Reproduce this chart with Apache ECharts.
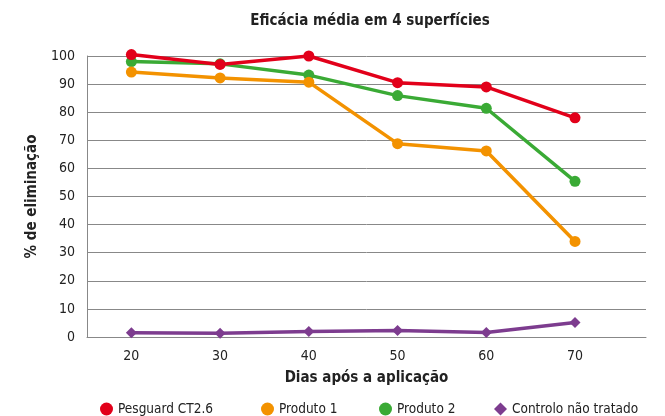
<!DOCTYPE html>
<html>
<head>
<meta charset="utf-8">
<script src="https://cdn.jsdelivr.net/npm/echarts@6/dist/echarts.min.js"></script>
<style>
  html, body { margin: 0; padding: 0; background: #fff; }
  #chart { width: 665px; height: 416px; }
</style>
</head>
<body>
<div id="chart"></div>
<script>
// dias após a aplicação
var dias = [20, 30, 40, 50, 60, 70];
var pesguard = [100.5, 97, 100, 90.5, 89, 78];
var produto1 = [94.3, 92.2, 90.7, 68.8, 66.2, 34];
var produto2 = [98, 97.2, 93.2, 85.9, 81.4, 55.4];
var controlo = [1.5, 1.3, 2, 2.3, 1.6, 5.2];
var yTicks = [0, 10, 20, 30, 40, 50, 60, 70, 80, 90, 100];

var nomes = ['Pesguard CT2.6', 'Produto 1', 'Produto 2', 'Controlo não tratado'];
var cores = ['#e2001a', '#f39200', '#3aaa35', '#7d3c8f'];
var fonte = 'Liberation Sans Narrow, DejaVu Sans Condensed, sans-serif';

function pares(vals) {
  return dias.map(function (d, i) { return [d, vals[i]]; });
}

var chart = echarts.init(document.getElementById('chart'));

var series = [pesguard, produto1, produto2, controlo].map(function (vals, i) {
  return {
    name: nomes[i],
    type: 'line',
    data: pares(vals),
    clip: false,
    symbol: i === 3 ? 'diamond' : 'circle',
    symbolSize: 11,
    lineStyle: { width: 3.5, color: cores[i] },
    itemStyle: { color: cores[i] },
    z: 10 - i
  };
});

// uma legenda por série para acertar as posições
var legendLeft = [95, 256, 374, 489];
var legends = nomes.map(function (n, i) {
  return {
    data: [{ name: n, icon: i === 3 ? 'diamond' : 'circle' }],
    left: legendLeft[i],
    top: 397,
    itemWidth: 13,
    itemHeight: 13,
    itemGap: 6,
    textStyle: { fontFamily: fonte, fontSize: 13.5, color: '#222' }
  };
});

var option = {
  backgroundColor: '#fff',
  animation: false,
  title: {
    text: 'Eficácia média em 4 superfícies',
    left: 365,
    textAlign: 'center',
    top: 9,
    textStyle: { fontFamily: fonte, fontSize: 15, fontWeight: 'bold', color: '#222' }
  },
  legend: legends,
  grid: { left: 87, right: 19, top: 56, bottom: 79 },
  xAxis: {
    type: 'value',
    min: 15,
    max: 78,
    interval: 5,
    name: 'Dias após a aplicação',
    nameLocation: 'middle',
    nameGap: 34,
    nameTextStyle: { fontFamily: fonte, fontSize: 15, fontWeight: 'bold', color: '#222' },
    axisLine: { show: true, lineStyle: { color: '#888', width: 1 } },
    axisTick: { show: false },
    splitLine: { show: false },
    axisLabel: {
      fontFamily: fonte, fontSize: 14, color: '#222', margin: 12,
      showMinLabel: true, showMaxLabel: true,
      formatter: function (v) { return (v % 10 === 0 && dias.indexOf(v) >= 0) ? String(v) : ''; }
    }
  },
  yAxis: {
    type: 'value',
    min: yTicks[0],
    max: yTicks[yTicks.length - 1],
    interval: 10,
    name: '% de eliminação',
    nameLocation: 'middle',
    nameGap: 44,
    nameTextStyle: { fontFamily: fonte, fontSize: 15, fontWeight: 'bold', color: '#222' },
    axisLine: { show: true, lineStyle: { color: '#888', width: 1 } },
    axisTick: { show: false },
    splitLine: { show: true, lineStyle: { color: '#888', width: 1 } },
    axisLabel: { fontFamily: fonte, fontSize: 14, color: '#222', margin: 12 }
  },
  series: series
};

chart.setOption(option);
</script>
</body>
</html>
